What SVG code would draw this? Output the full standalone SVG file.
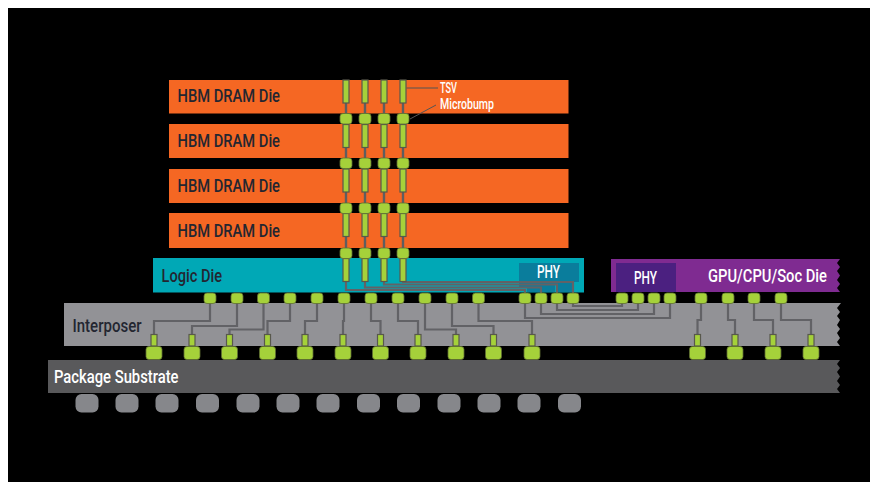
<svg xmlns="http://www.w3.org/2000/svg" width="870" height="482" viewBox="0 0 870 482">
<defs>
<style>
.dram{fill:#f56723}
.lbl{font-family:"Roboto","Liberation Sans",sans-serif;font-weight:500;font-size:19px}
.dk{fill:#232631}
.wt{fill:#fff}
.sm{font-size:14.500px}
.tr{fill:none;stroke:#626266;stroke-width:2.200}
.stem{fill:none;stroke:#5e5e60;stroke-width:2.400}
.lead{fill:none;stroke:#555;stroke-width:1}
.b{fill:#a5d13a;stroke:#5f6f33;stroke-width:.8}
.t{fill:#a5d13a;stroke:#58584c;stroke-width:1.200}
.ball{fill:#86878b}
</style>
<rect id="mb" class="b" x="-6" y="0" width="12" height="10.500" rx="3"/>
<rect id="tv" class="t" x="-3" y="0" width="6" height="23"/>
<rect id="pb" class="b" x="-8" y="0" width="16" height="13" rx="3"/>
<rect id="pt" class="t" x="-3" y="0" width="6" height="11.500"/>
<rect id="bl" class="ball" x="-11.500" y="0" width="23" height="18.500" rx="6"/>
</defs>
<rect x="0" y="0" width="870" height="482" fill="#fff"/>
<rect x="8" y="8" width="862" height="474" fill="#000"/>

<g id="dram-1"><rect class="dram" x="169" y="80" width="399.500" height="33.500"/><text class="lbl dk" x="177.500" y="102" textLength="102.500" lengthAdjust="spacingAndGlyphs">HBM DRAM Die</text></g>
<g id="dram-2"><rect class="dram" x="169" y="124" width="399.500" height="34"/><text class="lbl dk" x="177.500" y="147" textLength="102.500" lengthAdjust="spacingAndGlyphs">HBM DRAM Die</text></g>
<g id="dram-3"><rect class="dram" x="169" y="169" width="399.500" height="34"/><text class="lbl dk" x="177.500" y="191.500" textLength="102.500" lengthAdjust="spacingAndGlyphs">HBM DRAM Die</text></g>
<g id="dram-4"><rect class="dram" x="169" y="213" width="399.500" height="35"/><text class="lbl dk" x="177.500" y="236.500" textLength="102.500" lengthAdjust="spacingAndGlyphs">HBM DRAM Die</text></g>

<g id="logic-die">
<rect x="153" y="258" width="431" height="34.500" fill="#00a8b6"/>
<polygon points="519,263 579,263 579,282 572,282 572,292 558,292 558,284 555,284 555,292 542,292 542,287 540,287 540,292 527,292 527,288 519,288" fill="#0a7d9c"/>
<text class="lbl dk" x="161.500" y="281.500" textLength="60.500" lengthAdjust="spacingAndGlyphs">Logic Die</text>
<text class="lbl wt" x="537" y="278" textLength="23" lengthAdjust="spacingAndGlyphs">PHY</text>
</g>

<g id="soc-die">
<polygon points="611,259 840,259 837,263 840,267 837,271 840,275.500 837,280 840,284 837,288 840,292 611,292" fill="#7f2b91"/>
<rect x="616" y="263" width="60" height="29" fill="#4b2080"/>
<text class="lbl wt" x="634" y="284" textLength="23" lengthAdjust="spacingAndGlyphs">PHY</text>
<text class="lbl wt" x="708" y="282" textLength="119" lengthAdjust="spacingAndGlyphs">GPU/CPU/Soc Die</text>
</g>

<g id="interposer">
<polygon points="64,303 838,303 841,303 837,308 840,312 837,316 840,320 837,325 840,329 837,333 840,338 837,342 840,346 64,346" fill="#929296"/>
<text class="lbl dk" x="72.500" y="331.500" textLength="69" lengthAdjust="spacingAndGlyphs">Interposer</text>
</g>

<g id="package-substrate">
<polygon points="48,360 840,360 837,364 840,368 837,372 840,376.500 837,381 840,385 837,389 840,393 48,393" fill="#59595b"/>
<text class="lbl wt" x="54" y="382.500" textLength="124.500" lengthAdjust="spacingAndGlyphs">Package Substrate</text>
</g>

<g id="connectors">
<path class="stem" d="M346 80V258M365 80V258M384 80V258M403 80V258"/>
<path class="tr" d="M346 281V290H525V293M365 281V287.500H541V293M384 281V284.500H557V293M403 281V282H573V293"/>
<path class="tr" d="M210 303V321H154V335M237 303V326H192V335M263.500 303V329.500H229.500V335M290 303V321H267.500V335M317 303V321H305V335M344 303V321H343V335M371 303V321H380.500V335M398 303V321H418V335M425 303V329.500H456V335M452 303V326H493.500V335M478.500 303V321H532V335"/>
<path class="tr" d="M525 303V318H670V303M541 303V314H654V303M557 303V310H638V303M573 303V306H622V303"/>
<path class="tr" d="M701 303V320H697.500V335M728 303V320H735V335M754 303V320H773V335M781 303V320H811V335"/>
<path class="lead" d="M406.500 88H438M410 119L436 105"/>
</g>

<g id="tsv-stack">
<use href="#tv" x="346" y="80"/><use href="#tv" x="365" y="80"/><use href="#tv" x="384" y="80"/><use href="#tv" x="403" y="80"/>
<use href="#tv" x="346" y="124.500"/><use href="#tv" x="365" y="124.500"/><use href="#tv" x="384" y="124.500"/><use href="#tv" x="403" y="124.500"/>
<use href="#tv" x="346" y="169"/><use href="#tv" x="365" y="169"/><use href="#tv" x="384" y="169"/><use href="#tv" x="403" y="169"/>
<use href="#tv" x="346" y="213.500"/><use href="#tv" x="365" y="213.500"/><use href="#tv" x="384" y="213.500"/><use href="#tv" x="403" y="213.500"/>
<use href="#tv" x="346" y="258.500"/><use href="#tv" x="365" y="258.500"/><use href="#tv" x="384" y="258.500"/><use href="#tv" x="403" y="258.500"/>
<use href="#mb" x="346" y="113.500"/><use href="#mb" x="365" y="113.500"/><use href="#mb" x="384" y="113.500"/><use href="#mb" x="403" y="113.500"/>
<use href="#mb" x="346" y="158"/><use href="#mb" x="365" y="158"/><use href="#mb" x="384" y="158"/><use href="#mb" x="403" y="158"/>
<use href="#mb" x="346" y="203"/><use href="#mb" x="365" y="203"/><use href="#mb" x="384" y="203"/><use href="#mb" x="403" y="203"/>
<use href="#mb" x="346" y="248"/><use href="#mb" x="365" y="248"/><use href="#mb" x="384" y="248"/><use href="#mb" x="403" y="248"/>
</g>

<g id="labels-callout">
<text class="lbl wt sm" x="440" y="93" textLength="17" lengthAdjust="spacingAndGlyphs">TSV</text>
<text class="lbl wt sm" x="440" y="108.500" textLength="54" lengthAdjust="spacingAndGlyphs">Microbump</text>
</g>

<g id="microbumps">
<use href="#mb" x="210" y="293"/><use href="#mb" x="237" y="293"/><use href="#mb" x="263.500" y="293"/><use href="#mb" x="290" y="293"/><use href="#mb" x="317" y="293"/><use href="#mb" x="344" y="293"/><use href="#mb" x="371" y="293"/><use href="#mb" x="398" y="293"/><use href="#mb" x="425" y="293"/><use href="#mb" x="452" y="293"/><use href="#mb" x="478.500" y="293"/><use href="#mb" x="525" y="293"/><use href="#mb" x="541" y="293"/><use href="#mb" x="557" y="293"/><use href="#mb" x="573" y="293"/>
<use href="#mb" x="622" y="293"/><use href="#mb" x="638" y="293"/><use href="#mb" x="654" y="293"/><use href="#mb" x="670" y="293"/><use href="#mb" x="701" y="293"/><use href="#mb" x="728" y="293"/><use href="#mb" x="754" y="293"/><use href="#mb" x="781" y="293"/>
</g>

<g id="interposer-tsvs">
<use href="#pt" x="154" y="334.500"/><use href="#pt" x="192" y="334.500"/><use href="#pt" x="229.500" y="334.500"/><use href="#pt" x="267.500" y="334.500"/><use href="#pt" x="305" y="334.500"/><use href="#pt" x="343" y="334.500"/><use href="#pt" x="380.500" y="334.500"/><use href="#pt" x="418" y="334.500"/><use href="#pt" x="456" y="334.500"/><use href="#pt" x="493.500" y="334.500"/><use href="#pt" x="532" y="334.500"/><use href="#pt" x="697.500" y="334.500"/><use href="#pt" x="735" y="334.500"/><use href="#pt" x="773" y="334.500"/><use href="#pt" x="811" y="334.500"/>
</g>

<g id="package-bumps">
<use href="#pb" x="154" y="346.500"/><use href="#pb" x="192" y="346.500"/><use href="#pb" x="229.500" y="346.500"/><use href="#pb" x="267.500" y="346.500"/><use href="#pb" x="305" y="346.500"/><use href="#pb" x="343" y="346.500"/><use href="#pb" x="380.500" y="346.500"/><use href="#pb" x="418" y="346.500"/><use href="#pb" x="456" y="346.500"/><use href="#pb" x="493.500" y="346.500"/><use href="#pb" x="532" y="346.500"/><use href="#pb" x="697.500" y="346.500"/><use href="#pb" x="735" y="346.500"/><use href="#pb" x="773" y="346.500"/><use href="#pb" x="811" y="346.500"/>
</g>

<g id="solder-balls">
<use href="#bl" x="87" y="394"/><use href="#bl" x="127" y="394"/><use href="#bl" x="167" y="394"/><use href="#bl" x="207.500" y="394"/><use href="#bl" x="248" y="394"/><use href="#bl" x="288" y="394"/><use href="#bl" x="328" y="394"/><use href="#bl" x="368.500" y="394"/><use href="#bl" x="408.500" y="394"/><use href="#bl" x="449" y="394"/><use href="#bl" x="489" y="394"/><use href="#bl" x="529" y="394"/><use href="#bl" x="569.500" y="394"/>
</g>
</svg>
